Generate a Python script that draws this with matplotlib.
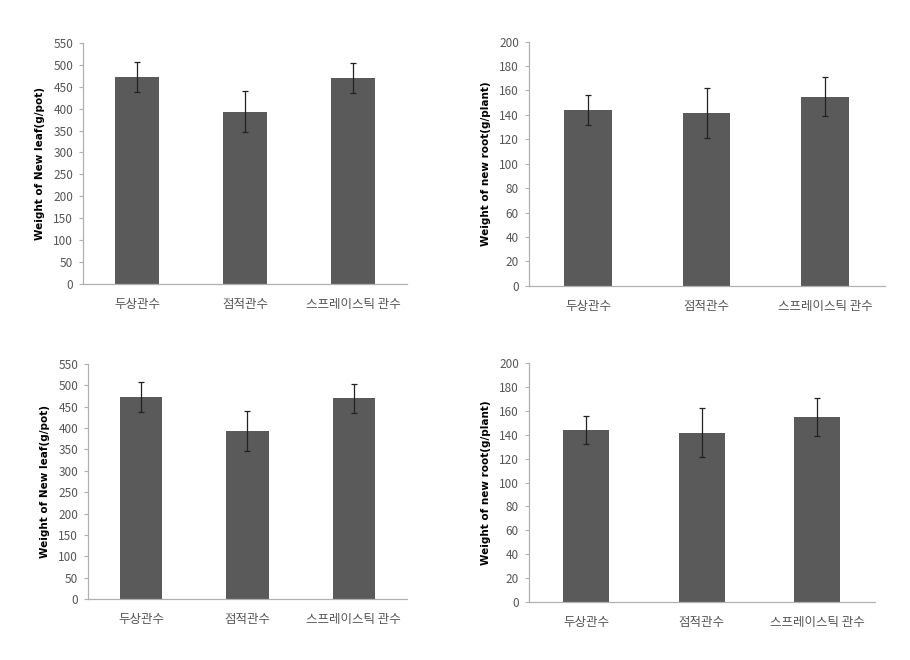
import numpy as np
import matplotlib
matplotlib.use("Agg")
import matplotlib.pyplot as plt

plt.rcParams['font.family'] = ['Noto Sans CJK KR', 'DejaVu Sans']

categories = ["두상관수", "점적관수", "스프레이스틱 관수"]

leaf_mean = [472, 393, 470]
leaf_err = [35, 47, 34]
root_mean = [144, 141.5, 155]
root_err = [12, 20.5, 16]

leaf_label = "Weight of New leaf(g/pot)"
root_label = "Weight of new root(g/plant)"
leaf_ticks = np.arange(0, 551, 50)
root_ticks = np.arange(0, 201, 20)

bar_color = "#5a5a5a"
axis_color = "#b0b0b0"
tick_color = "#555555"


def draw_panel(ax, means, errs, ticks, ylabel):
    x = np.arange(len(categories))
    ax.bar(x, means, width=0.4, color=bar_color, zorder=2)
    ax.errorbar(x, means, yerr=errs, fmt="none", ecolor="#222222",
                elinewidth=0.9, capsize=2.5, capthick=0.9, zorder=3)
    ax.set_xlim(-0.5, len(categories) - 0.5)
    ax.set_ylim(0, ticks[-1])
    ax.set_yticks(ticks)
    ax.set_xticks(x)
    ax.set_xticklabels(categories, fontsize=9, color=tick_color)
    ax.tick_params(axis="x", length=0, pad=10)
    ax.tick_params(axis="y", length=3, width=0.8, color=axis_color,
                   labelsize=8.5, labelcolor=tick_color, pad=4)
    for s in ["top", "right"]:
        ax.spines[s].set_visible(False)
    for s in ["left", "bottom"]:
        ax.spines[s].set_color(axis_color)
        ax.spines[s].set_linewidth(0.9)
    ax.set_ylabel(ylabel, fontsize=7.5, fontweight="bold", family="DejaVu Sans",
                  labelpad=6)


fig = plt.figure(figsize=(9.1, 6.6), dpi=100)

ax1 = fig.add_axes([0.0912, 0.570, 0.356, 0.365])
draw_panel(ax1, leaf_mean, leaf_err, leaf_ticks, leaf_label)

ax2 = fig.add_axes([0.581, 0.567, 0.391, 0.370])
draw_panel(ax2, root_mean, root_err, root_ticks, root_label)

ax3 = fig.add_axes([0.0967, 0.0924, 0.3505, 0.356])
draw_panel(ax3, leaf_mean, leaf_err, leaf_ticks, leaf_label)

ax4 = fig.add_axes([0.581, 0.0879, 0.380, 0.362])
draw_panel(ax4, root_mean, root_err, root_ticks, root_label)

fig.savefig("out.png", dpi=100, facecolor="white")
